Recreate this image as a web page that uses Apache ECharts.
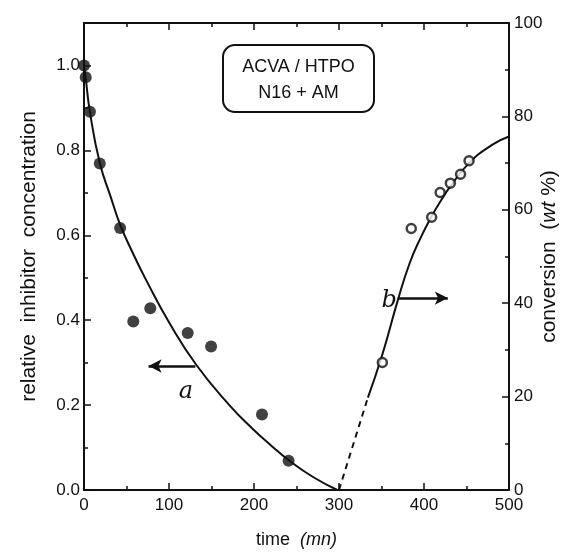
<!DOCTYPE html>
<html><head><meta charset="utf-8">
<script src="https://cdn.jsdelivr.net/npm/echarts@6/dist/echarts.min.js"></script>
<style>html,body{margin:0;padding:0;background:#fff}#c{width:571px;height:557px}</style>
</head><body><div id="c"></div>
<script>
// Series a: relative inhibitor concentration (filled circles)
const timeA = [0, 2, 7, 18.6, 42.5, 58, 78, 122, 149.5, 209.4, 240.7];
const concA = [1.0, 0.972, 0.891, 0.769, 0.617, 0.397, 0.428, 0.370, 0.338, 0.178, 0.069];
// Fitted curve a
const curveATime = [0, 2, 7, 18.6, 31.5, 42.5, 57, 73, 100, 132, 171, 198, 220, 241, 270, 298];
const curveAConc = [1.0, 0.97, 0.89, 0.77, 0.69, 0.625, 0.56, 0.495, 0.395, 0.295, 0.2, 0.145, 0.105, 0.07, 0.03, 0.0];
// Series b: conversion wt % (open circles)
const timeB = [351, 385, 409, 419, 431, 443, 453];
const convB = [27.3, 56.0, 58.4, 63.7, 65.7, 67.6, 70.5];
// Curve b (solid) and its dashed extrapolation
const curveBTime = [334, 351, 369, 383, 396, 409, 420, 431, 453, 480, 500];
const curveBConv = [19.8, 29.0, 40.5, 48.5, 54.0, 58.6, 62.0, 65.0, 70.0, 73.9, 75.7];
const dashBTime = [300, 334];
const dashBConv = [0, 19.8];
// Axis ticks
const xTicks = {min: 0, max: 500, step: 100};
const yLeftTicks = {min: 0, max: 1.1, step: 0.2};
const yRightTicks = {min: 0, max: 100, step: 20};

const zip = (a, b) => a.map((v, i) => [v, b[i]]);
const FONT = "'Liberation Sans Narrow','Liberation Sans',Arial,sans-serif";
const INK = '#111';

const chart = echarts.init(document.getElementById('c'));
const lineStyleAxis = {color: INK, width: 2};
const tickStyle = {color: INK, width: 1.5};
chart.setOption({
  animation: false,
  backgroundColor: '#fff',
  grid: {left: 84, right: 62, top: 23, bottom: 67, show: false, containLabel: false, outerBoundsMode: 'none'},
  xAxis: [{
    type: 'value', min: xTicks.min, max: xTicks.max, interval: xTicks.step,
    position: 'bottom',
    axisLine: {show: true, onZero: false, lineStyle: lineStyleAxis},
    axisTick: {show: true, inside: true, length: 7, lineStyle: tickStyle},
    minorTick: {show: true, splitNumber: 2, length: 4, lineStyle: tickStyle},
    splitLine: {show: false},
    axisLabel: {color: INK, fontFamily: FONT, fontSize: 17, margin: 7},
    name: 'time  {i|(mn)}', nameLocation: 'middle', nameGap: 41, nameMoveOverlap: false,
    nameTextStyle: {color: INK, fontFamily: FONT, fontSize: 18,
      rich: {i: {fontStyle: 'italic', fontFamily: FONT, fontSize: 18, color: INK}}}
  }, {
    type: 'value', min: xTicks.min, max: xTicks.max, interval: xTicks.step,
    position: 'top',
    axisLine: {show: true, onZero: false, lineStyle: lineStyleAxis},
    axisTick: {show: true, inside: true, length: 7, lineStyle: tickStyle},
    minorTick: {show: true, splitNumber: 2, length: 4, lineStyle: tickStyle},
    splitLine: {show: false}, axisLabel: {show: false}
  }],
  yAxis: [{
    type: 'value', min: yLeftTicks.min, max: yLeftTicks.max, interval: yLeftTicks.step,
    position: 'left',
    axisLine: {show: true, onZero: false, lineStyle: lineStyleAxis},
    axisTick: {show: true, inside: true, length: 7, lineStyle: tickStyle},
    minorTick: {show: true, splitNumber: 2, length: 4, lineStyle: tickStyle},
    splitLine: {show: false},
    axisLabel: {color: INK, fontFamily: FONT, fontSize: 17, margin: 4, showMaxLabel: false,
      formatter: v => (Math.abs(v * 10 % 2) < 1e-6 || Math.abs(v * 10 % 2 - 2) < 1e-6) ? v.toFixed(1) : ''},
    name: 'relative  inhibitor  concentration', nameLocation: 'middle', nameGap: 44, nameMoveOverlap: false,
    nameTextStyle: {color: INK, fontFamily: FONT, fontSize: 21}
  }, {
    type: 'value', min: yRightTicks.min, max: yRightTicks.max, interval: yRightTicks.step,
    position: 'right',
    axisLine: {show: true, onZero: false, lineStyle: lineStyleAxis},
    axisTick: {show: true, inside: true, length: 7, lineStyle: tickStyle},
    minorTick: {show: true, splitNumber: 2, length: 4, lineStyle: tickStyle},
    splitLine: {show: false},
    axisLabel: {color: INK, fontFamily: FONT, fontSize: 17, margin: 5},
    name: 'conversion  ({i|wt} %)', nameLocation: 'middle', nameGap: 30, nameRotate: 90,
    nameMoveOverlap: false,
    nameTextStyle: {color: INK, fontFamily: FONT, fontSize: 21,
      rich: {i: {fontStyle: 'italic', fontFamily: FONT, fontSize: 21, color: INK}}}
  }],
  series: [
    {type: 'line', data: zip(curveATime, curveAConc), smooth: 0.5, showSymbol: false,
     lineStyle: {color: INK, width: 2}, z: 2,
     markLine: {silent: true, symbol: ['none', 'arrow'], symbolSize: [10, 13],
       lineStyle: {color: INK, width: 2.5, type: 'solid'}, label: {show: false},
       data: [[{coord: [131, 0.292]}, {coord: [76, 0.292]}]]},
     markPoint: {symbol: 'circle', symbolSize: 0,
       label: {show: true, formatter: 'a', color: INK, fontFamily: "'DejaVu Serif','Liberation Serif',serif",
         fontStyle: 'italic', fontSize: 24},
       data: [{coord: [120, 0.232]}]}},
    {type: 'scatter', data: zip(timeA, concA), symbol: 'circle', symbolSize: 12,
     itemStyle: {color: INK}, z: 3},
    {type: 'line', yAxisIndex: 1, data: zip(dashBTime, dashBConv), showSymbol: false,
     lineStyle: {color: INK, width: 2, type: [6, 5]}, z: 2},
    {type: 'line', yAxisIndex: 1, data: zip(curveBTime, curveBConv), smooth: 0.5, showSymbol: false,
     lineStyle: {color: INK, width: 2}, z: 2,
     markLine: {silent: true, symbol: ['none', 'arrow'], symbolSize: [10, 13],
       lineStyle: {color: INK, width: 2.5, type: 'solid'}, label: {show: false},
       data: [[{coord: [369, 41.1]}, {coord: [428, 41.1]}]]},
     markPoint: {symbol: 'circle', symbolSize: 0,
       label: {show: true, formatter: 'b', color: INK, fontFamily: "'DejaVu Serif','Liberation Serif',serif",
         fontStyle: 'italic', fontSize: 24},
       data: [{coord: [359, 40.5]}]}},
    {type: 'scatter', yAxisIndex: 1, data: zip(timeB, convB), symbol: 'circle', symbolSize: 9,
     itemStyle: {color: '#fff', borderColor: INK, borderWidth: 2.5}, z: 3}
  ],
  graphic: [{
    type: 'group', left: 222, top: 44,
    children: [
      {type: 'rect', shape: {x: 0, y: 0, width: 151, height: 67, r: 12},
       style: {fill: '#fff', stroke: INK, lineWidth: 2}},
      {type: 'text', x: 75.5, y: 22, style: {text: 'ACVA / HTPO', fill: INK, font: "18px " + FONT,
        textAlign: 'center', textVerticalAlign: 'middle'}},
      {type: 'text', x: 75.5, y: 48, style: {text: 'N16 + AM', fill: INK, font: "18px " + FONT,
        textAlign: 'center', textVerticalAlign: 'middle'}}
    ]
  }]
});
</script></body></html>
